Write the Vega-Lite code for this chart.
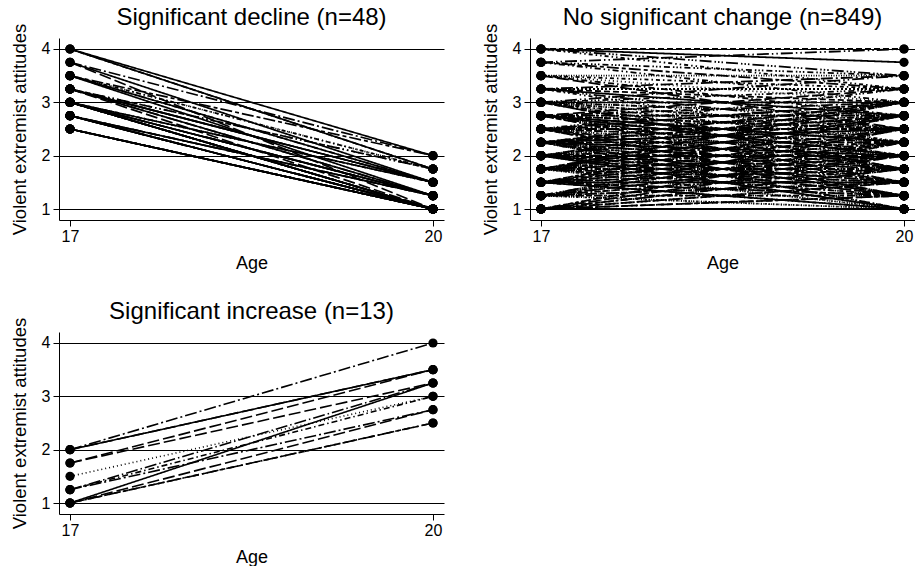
{
  "$schema": "https://vega.github.io/schema/vega-lite/v6.json",
  "background": "white",
  "padding": {"left": 10, "top": 6, "right": 0, "bottom": 0},
  "datasets": {
    "decline": [
      {"id":1,"age":17,"val":4},{"id":1,"age":20,"val":2},
      {"id":2,"age":17,"val":4},{"id":2,"age":20,"val":1.75},
      {"id":3,"age":17,"val":4},{"id":3,"age":20,"val":1.75},
      {"id":4,"age":17,"val":3.75},{"id":4,"age":20,"val":2},
      {"id":5,"age":17,"val":3.75},{"id":5,"age":20,"val":1},
      {"id":6,"age":17,"val":3.75},{"id":6,"age":20,"val":1.5},
      {"id":7,"age":17,"val":3.5},{"id":7,"age":20,"val":1.75},
      {"id":8,"age":17,"val":3.5},{"id":8,"age":20,"val":1.75},
      {"id":9,"age":17,"val":3.5},{"id":9,"age":20,"val":1.5},
      {"id":10,"age":17,"val":3.5},{"id":10,"age":20,"val":1.5},
      {"id":11,"age":17,"val":3.5},{"id":11,"age":20,"val":2},
      {"id":12,"age":17,"val":3.5},{"id":12,"age":20,"val":1.25},
      {"id":13,"age":17,"val":3.25},{"id":13,"age":20,"val":1.75},
      {"id":14,"age":17,"val":3.25},{"id":14,"age":20,"val":1.75},
      {"id":15,"age":17,"val":3.25},{"id":15,"age":20,"val":1.5},
      {"id":16,"age":17,"val":3.25},{"id":16,"age":20,"val":1.5},
      {"id":17,"age":17,"val":3.25},{"id":17,"age":20,"val":1.5},
      {"id":18,"age":17,"val":3.25},{"id":18,"age":20,"val":1.25},
      {"id":19,"age":17,"val":3.25},{"id":19,"age":20,"val":1.25},
      {"id":20,"age":17,"val":3.25},{"id":20,"age":20,"val":1},
      {"id":21,"age":17,"val":3},{"id":21,"age":20,"val":1.5},
      {"id":22,"age":17,"val":3},{"id":22,"age":20,"val":1.5},
      {"id":23,"age":17,"val":3},{"id":23,"age":20,"val":1.5},
      {"id":24,"age":17,"val":3},{"id":24,"age":20,"val":1.25},
      {"id":25,"age":17,"val":3},{"id":25,"age":20,"val":1.25},
      {"id":26,"age":17,"val":3},{"id":26,"age":20,"val":1.25},
      {"id":27,"age":17,"val":3},{"id":27,"age":20,"val":1.25},
      {"id":28,"age":17,"val":3},{"id":28,"age":20,"val":1},
      {"id":29,"age":17,"val":3},{"id":29,"age":20,"val":1},
      {"id":30,"age":17,"val":3},{"id":30,"age":20,"val":1},
      {"id":31,"age":17,"val":3},{"id":31,"age":20,"val":1},
      {"id":32,"age":17,"val":3},{"id":32,"age":20,"val":1},
      {"id":33,"age":17,"val":3},{"id":33,"age":20,"val":1},
      {"id":34,"age":17,"val":2.75},{"id":34,"age":20,"val":1.25},
      {"id":35,"age":17,"val":2.75},{"id":35,"age":20,"val":1.25},
      {"id":36,"age":17,"val":2.75},{"id":36,"age":20,"val":1.25},
      {"id":37,"age":17,"val":2.75},{"id":37,"age":20,"val":1},
      {"id":38,"age":17,"val":2.75},{"id":38,"age":20,"val":1},
      {"id":39,"age":17,"val":2.75},{"id":39,"age":20,"val":1},
      {"id":40,"age":17,"val":2.75},{"id":40,"age":20,"val":1},
      {"id":41,"age":17,"val":2.75},{"id":41,"age":20,"val":1},
      {"id":42,"age":17,"val":2.75},{"id":42,"age":20,"val":1},
      {"id":43,"age":17,"val":2.5},{"id":43,"age":20,"val":1},
      {"id":44,"age":17,"val":2.5},{"id":44,"age":20,"val":1},
      {"id":45,"age":17,"val":2.5},{"id":45,"age":20,"val":1},
      {"id":46,"age":17,"val":2.5},{"id":46,"age":20,"val":1},
      {"id":47,"age":17,"val":2.5},{"id":47,"age":20,"val":1},
      {"id":48,"age":17,"val":2.5},{"id":48,"age":20,"val":1}
    ],
    "nochange": [
      {"id":101,"age":17,"val":1},{"id":101,"age":20,"val":1},
      {"id":102,"age":17,"val":1},{"id":102,"age":20,"val":1.25},
      {"id":103,"age":17,"val":1},{"id":103,"age":20,"val":1.5},
      {"id":104,"age":17,"val":1},{"id":104,"age":20,"val":1.75},
      {"id":105,"age":17,"val":1},{"id":105,"age":20,"val":2},
      {"id":106,"age":17,"val":1},{"id":106,"age":20,"val":2.25},
      {"id":107,"age":17,"val":1.25},{"id":107,"age":20,"val":1},
      {"id":108,"age":17,"val":1.25},{"id":108,"age":20,"val":1.25},
      {"id":109,"age":17,"val":1.25},{"id":109,"age":20,"val":1.5},
      {"id":110,"age":17,"val":1.25},{"id":110,"age":20,"val":1.75},
      {"id":111,"age":17,"val":1.25},{"id":111,"age":20,"val":2},
      {"id":112,"age":17,"val":1.25},{"id":112,"age":20,"val":2.25},
      {"id":113,"age":17,"val":1.25},{"id":113,"age":20,"val":2.5},
      {"id":114,"age":17,"val":1.5},{"id":114,"age":20,"val":1},
      {"id":115,"age":17,"val":1.5},{"id":115,"age":20,"val":1.25},
      {"id":116,"age":17,"val":1.5},{"id":116,"age":20,"val":1.5},
      {"id":117,"age":17,"val":1.5},{"id":117,"age":20,"val":1.75},
      {"id":118,"age":17,"val":1.5},{"id":118,"age":20,"val":2},
      {"id":119,"age":17,"val":1.5},{"id":119,"age":20,"val":2.25},
      {"id":120,"age":17,"val":1.5},{"id":120,"age":20,"val":2.5},
      {"id":121,"age":17,"val":1.5},{"id":121,"age":20,"val":2.75},
      {"id":122,"age":17,"val":1.75},{"id":122,"age":20,"val":1},
      {"id":123,"age":17,"val":1.75},{"id":123,"age":20,"val":1.25},
      {"id":124,"age":17,"val":1.75},{"id":124,"age":20,"val":1.5},
      {"id":125,"age":17,"val":1.75},{"id":125,"age":20,"val":1.75},
      {"id":126,"age":17,"val":1.75},{"id":126,"age":20,"val":2},
      {"id":127,"age":17,"val":1.75},{"id":127,"age":20,"val":2.25},
      {"id":128,"age":17,"val":1.75},{"id":128,"age":20,"val":2.5},
      {"id":129,"age":17,"val":1.75},{"id":129,"age":20,"val":2.75},
      {"id":130,"age":17,"val":1.75},{"id":130,"age":20,"val":3},
      {"id":131,"age":17,"val":2},{"id":131,"age":20,"val":1},
      {"id":132,"age":17,"val":2},{"id":132,"age":20,"val":1.25},
      {"id":133,"age":17,"val":2},{"id":133,"age":20,"val":1.5},
      {"id":134,"age":17,"val":2},{"id":134,"age":20,"val":1.75},
      {"id":135,"age":17,"val":2},{"id":135,"age":20,"val":2},
      {"id":136,"age":17,"val":2},{"id":136,"age":20,"val":2.25},
      {"id":137,"age":17,"val":2},{"id":137,"age":20,"val":2.5},
      {"id":138,"age":17,"val":2},{"id":138,"age":20,"val":2.75},
      {"id":139,"age":17,"val":2},{"id":139,"age":20,"val":3},
      {"id":140,"age":17,"val":2.25},{"id":140,"age":20,"val":1},
      {"id":141,"age":17,"val":2.25},{"id":141,"age":20,"val":1.25},
      {"id":142,"age":17,"val":2.25},{"id":142,"age":20,"val":1.5},
      {"id":143,"age":17,"val":2.25},{"id":143,"age":20,"val":1.75},
      {"id":144,"age":17,"val":2.25},{"id":144,"age":20,"val":2},
      {"id":145,"age":17,"val":2.25},{"id":145,"age":20,"val":2.25},
      {"id":146,"age":17,"val":2.25},{"id":146,"age":20,"val":2.5},
      {"id":147,"age":17,"val":2.25},{"id":147,"age":20,"val":2.75},
      {"id":148,"age":17,"val":2.25},{"id":148,"age":20,"val":3},
      {"id":149,"age":17,"val":2.5},{"id":149,"age":20,"val":1.25},
      {"id":150,"age":17,"val":2.5},{"id":150,"age":20,"val":1.5},
      {"id":151,"age":17,"val":2.5},{"id":151,"age":20,"val":1.75},
      {"id":152,"age":17,"val":2.5},{"id":152,"age":20,"val":2},
      {"id":153,"age":17,"val":2.5},{"id":153,"age":20,"val":2.25},
      {"id":154,"age":17,"val":2.5},{"id":154,"age":20,"val":2.5},
      {"id":155,"age":17,"val":2.5},{"id":155,"age":20,"val":2.75},
      {"id":156,"age":17,"val":2.5},{"id":156,"age":20,"val":3},
      {"id":157,"age":17,"val":2.5},{"id":157,"age":20,"val":3.25},
      {"id":158,"age":17,"val":2.75},{"id":158,"age":20,"val":1.5},
      {"id":159,"age":17,"val":2.75},{"id":159,"age":20,"val":1.75},
      {"id":160,"age":17,"val":2.75},{"id":160,"age":20,"val":2},
      {"id":161,"age":17,"val":2.75},{"id":161,"age":20,"val":2.25},
      {"id":162,"age":17,"val":2.75},{"id":162,"age":20,"val":2.5},
      {"id":163,"age":17,"val":2.75},{"id":163,"age":20,"val":2.75},
      {"id":164,"age":17,"val":2.75},{"id":164,"age":20,"val":3},
      {"id":165,"age":17,"val":2.75},{"id":165,"age":20,"val":3.25},
      {"id":166,"age":17,"val":3},{"id":166,"age":20,"val":1.75},
      {"id":167,"age":17,"val":3},{"id":167,"age":20,"val":2},
      {"id":168,"age":17,"val":3},{"id":168,"age":20,"val":2.25},
      {"id":169,"age":17,"val":3},{"id":169,"age":20,"val":2.5},
      {"id":170,"age":17,"val":3},{"id":170,"age":20,"val":2.75},
      {"id":171,"age":17,"val":3},{"id":171,"age":20,"val":3},
      {"id":172,"age":17,"val":3},{"id":172,"age":20,"val":3.25},
      {"id":173,"age":17,"val":3},{"id":173,"age":20,"val":3.5},
      {"id":174,"age":17,"val":3.25},{"id":174,"age":20,"val":2.25},
      {"id":175,"age":17,"val":3.25},{"id":175,"age":20,"val":2.5},
      {"id":176,"age":17,"val":3.25},{"id":176,"age":20,"val":2.75},
      {"id":177,"age":17,"val":3.25},{"id":177,"age":20,"val":3},
      {"id":178,"age":17,"val":3.25},{"id":178,"age":20,"val":3.25},
      {"id":179,"age":17,"val":3.25},{"id":179,"age":20,"val":3.5},
      {"id":180,"age":17,"val":3.5},{"id":180,"age":20,"val":2.5},
      {"id":181,"age":17,"val":3.5},{"id":181,"age":20,"val":2.75},
      {"id":182,"age":17,"val":3.5},{"id":182,"age":20,"val":3},
      {"id":183,"age":17,"val":3.5},{"id":183,"age":20,"val":3.25},
      {"id":184,"age":17,"val":3.5},{"id":184,"age":20,"val":3.5},
      {"id":185,"age":17,"val":3.75},{"id":185,"age":20,"val":3},
      {"id":186,"age":17,"val":3.75},{"id":186,"age":20,"val":3.25},
      {"id":187,"age":17,"val":3.75},{"id":187,"age":20,"val":3.5},
      {"id":188,"age":17,"val":3.75},{"id":188,"age":20,"val":4},
      {"id":189,"age":17,"val":4},{"id":189,"age":20,"val":3.25},
      {"id":190,"age":17,"val":4},{"id":190,"age":20,"val":3.5},
      {"id":191,"age":17,"val":4},{"id":191,"age":20,"val":3.75},
      {"id":192,"age":17,"val":4},{"id":192,"age":20,"val":4},
      {"id":301,"age":17,"val":1},{"id":301,"age":20,"val":1},
      {"id":302,"age":17,"val":1},{"id":302,"age":20,"val":1.25},
      {"id":303,"age":17,"val":1},{"id":303,"age":20,"val":1.5},
      {"id":304,"age":17,"val":1},{"id":304,"age":20,"val":1.75},
      {"id":305,"age":17,"val":1},{"id":305,"age":20,"val":2},
      {"id":306,"age":17,"val":1},{"id":306,"age":20,"val":2.25},
      {"id":307,"age":17,"val":1.25},{"id":307,"age":20,"val":1},
      {"id":308,"age":17,"val":1.25},{"id":308,"age":20,"val":1.25},
      {"id":309,"age":17,"val":1.25},{"id":309,"age":20,"val":1.5},
      {"id":310,"age":17,"val":1.25},{"id":310,"age":20,"val":1.75},
      {"id":311,"age":17,"val":1.25},{"id":311,"age":20,"val":2},
      {"id":312,"age":17,"val":1.25},{"id":312,"age":20,"val":2.25},
      {"id":313,"age":17,"val":1.25},{"id":313,"age":20,"val":2.5},
      {"id":314,"age":17,"val":1.5},{"id":314,"age":20,"val":1},
      {"id":315,"age":17,"val":1.5},{"id":315,"age":20,"val":1.25},
      {"id":316,"age":17,"val":1.5},{"id":316,"age":20,"val":1.5},
      {"id":317,"age":17,"val":1.5},{"id":317,"age":20,"val":1.75},
      {"id":318,"age":17,"val":1.5},{"id":318,"age":20,"val":2},
      {"id":319,"age":17,"val":1.5},{"id":319,"age":20,"val":2.25},
      {"id":320,"age":17,"val":1.5},{"id":320,"age":20,"val":2.5},
      {"id":321,"age":17,"val":1.5},{"id":321,"age":20,"val":2.75},
      {"id":322,"age":17,"val":1.75},{"id":322,"age":20,"val":1},
      {"id":323,"age":17,"val":1.75},{"id":323,"age":20,"val":1.25},
      {"id":324,"age":17,"val":1.75},{"id":324,"age":20,"val":1.5},
      {"id":325,"age":17,"val":1.75},{"id":325,"age":20,"val":1.75},
      {"id":326,"age":17,"val":1.75},{"id":326,"age":20,"val":2},
      {"id":327,"age":17,"val":1.75},{"id":327,"age":20,"val":2.25},
      {"id":328,"age":17,"val":1.75},{"id":328,"age":20,"val":2.5},
      {"id":329,"age":17,"val":1.75},{"id":329,"age":20,"val":2.75},
      {"id":330,"age":17,"val":1.75},{"id":330,"age":20,"val":3},
      {"id":331,"age":17,"val":2},{"id":331,"age":20,"val":1},
      {"id":332,"age":17,"val":2},{"id":332,"age":20,"val":1.25},
      {"id":333,"age":17,"val":2},{"id":333,"age":20,"val":1.5},
      {"id":334,"age":17,"val":2},{"id":334,"age":20,"val":1.75},
      {"id":335,"age":17,"val":2},{"id":335,"age":20,"val":2},
      {"id":336,"age":17,"val":2},{"id":336,"age":20,"val":2.25},
      {"id":337,"age":17,"val":2},{"id":337,"age":20,"val":2.5},
      {"id":338,"age":17,"val":2},{"id":338,"age":20,"val":2.75},
      {"id":339,"age":17,"val":2},{"id":339,"age":20,"val":3},
      {"id":340,"age":17,"val":2.25},{"id":340,"age":20,"val":1},
      {"id":341,"age":17,"val":2.25},{"id":341,"age":20,"val":1.25},
      {"id":342,"age":17,"val":2.25},{"id":342,"age":20,"val":1.5},
      {"id":343,"age":17,"val":2.25},{"id":343,"age":20,"val":1.75},
      {"id":344,"age":17,"val":2.25},{"id":344,"age":20,"val":2},
      {"id":345,"age":17,"val":2.25},{"id":345,"age":20,"val":2.25},
      {"id":346,"age":17,"val":2.25},{"id":346,"age":20,"val":2.5},
      {"id":347,"age":17,"val":2.25},{"id":347,"age":20,"val":2.75},
      {"id":348,"age":17,"val":2.25},{"id":348,"age":20,"val":3},
      {"id":349,"age":17,"val":2.5},{"id":349,"age":20,"val":1.25},
      {"id":350,"age":17,"val":2.5},{"id":350,"age":20,"val":1.5},
      {"id":351,"age":17,"val":2.5},{"id":351,"age":20,"val":1.75},
      {"id":352,"age":17,"val":2.5},{"id":352,"age":20,"val":2},
      {"id":353,"age":17,"val":2.5},{"id":353,"age":20,"val":2.25},
      {"id":354,"age":17,"val":2.5},{"id":354,"age":20,"val":2.5},
      {"id":355,"age":17,"val":2.5},{"id":355,"age":20,"val":2.75},
      {"id":356,"age":17,"val":2.5},{"id":356,"age":20,"val":3},
      {"id":357,"age":17,"val":2.75},{"id":357,"age":20,"val":1.5},
      {"id":358,"age":17,"val":2.75},{"id":358,"age":20,"val":1.75},
      {"id":359,"age":17,"val":2.75},{"id":359,"age":20,"val":2},
      {"id":360,"age":17,"val":2.75},{"id":360,"age":20,"val":2.25},
      {"id":361,"age":17,"val":2.75},{"id":361,"age":20,"val":2.5},
      {"id":362,"age":17,"val":2.75},{"id":362,"age":20,"val":2.75},
      {"id":363,"age":17,"val":3},{"id":363,"age":20,"val":1.75},
      {"id":364,"age":17,"val":3},{"id":364,"age":20,"val":2},
      {"id":365,"age":17,"val":3},{"id":365,"age":20,"val":2.25},
      {"id":366,"age":17,"val":3},{"id":366,"age":20,"val":2.5},
      {"id":367,"age":17,"val":3},{"id":367,"age":20,"val":2.75},
      {"id":368,"age":17,"val":3},{"id":368,"age":20,"val":3}
    ],
    "increase": [
      {"id":201,"age":17,"val":2},{"id":201,"age":20,"val":4},
      {"id":202,"age":17,"val":2},{"id":202,"age":20,"val":3.5},
      {"id":203,"age":17,"val":2},{"id":203,"age":20,"val":3.5},
      {"id":204,"age":17,"val":1.75},{"id":204,"age":20,"val":3.5},
      {"id":205,"age":17,"val":1.75},{"id":205,"age":20,"val":3.25},
      {"id":206,"age":17,"val":1.5},{"id":206,"age":20,"val":3},
      {"id":207,"age":17,"val":1.25},{"id":207,"age":20,"val":2.75},
      {"id":208,"age":17,"val":1.25},{"id":208,"age":20,"val":3},
      {"id":209,"age":17,"val":1},{"id":209,"age":20,"val":3.25},
      {"id":210,"age":17,"val":1},{"id":210,"age":20,"val":2.75},
      {"id":211,"age":17,"val":1},{"id":211,"age":20,"val":2.5},
      {"id":212,"age":17,"val":1},{"id":212,"age":20,"val":2.5},
      {"id":213,"age":17,"val":1.25},{"id":213,"age":20,"val":3.25}
    ]
  },
  "columns": 2,
  "spacing": {"column": 37, "row": 28},
  "concat": [
    {
      "title": {"text": "Significant decline (n=48)"},
      "width": 385, "height": 182,
      "data": {"name": "decline"},
      "encoding": {
        "x": {"field": "age", "type": "quantitative", "scale": {"domain": [16.909, 20.091], "nice": false, "zero": false}, "axis": {"values": [17, 20], "title": "Age", "grid": false}},
        "y": {"field": "val", "type": "quantitative", "scale": {"domain": [0.794, 4.206], "nice": false, "zero": false}, "axis": {"values": [1, 2, 3, 4], "title": "Violent extremist attitudes", "grid": true}}
      },
      "layer": [
        {"mark": {"type": "line", "strokeWidth": 1.7, "color": "black"},
         "encoding": {"strokeDash": {"field": "id", "type": "nominal", "legend": null, "scale": {"range": [[1,0],[6,3],[1,0],[12,3,2,3],[12,4],[1,0],[1,3],[4,3,1.5,3],[1,0],[6,3,1.5,3,1.5,3],[12,3,4,3],[1,0],[12,3,1.5,3,1.5,3],[4,3,1.5,3,1.5,3],[1,0]]}}}},
        {"mark": {"type": "point", "filled": true, "size": 85, "color": "black", "opacity": 1}}
      ]
    },
    {
      "title": {"text": "No significant change (n=849)"},
      "width": 385, "height": 182,
      "data": {"name": "nochange"},
      "encoding": {
        "x": {"field": "age", "type": "quantitative", "scale": {"domain": [16.909, 20.091], "nice": false, "zero": false}, "axis": {"values": [17, 20], "title": "Age", "grid": false}},
        "y": {"field": "val", "type": "quantitative", "scale": {"domain": [0.794, 4.206], "nice": false, "zero": false}, "axis": {"values": [1, 2, 3, 4], "title": "Violent extremist attitudes", "grid": true}}
      },
      "layer": [
        {"mark": {"type": "line", "strokeWidth": 1.8, "color": "black"},
         "encoding": {"strokeDash": {"field": "id", "type": "nominal", "legend": null, "scale": {"range": [[1,0],[6,3],[2,2],[12,3,2,3],[12,4],[6,3,1.5,3],[1,3],[4,3,1.5,3],[1,1.5],[6,3,1.5,3,1.5,3],[12,3,4,3],[6,3,1.5,2,1.5,2,1.5,3],[12,3,1.5,3,1.5,3],[4,3,1.5,3,1.5,3],[12,3,1.5,2,1.5,2,1.5,3]]}}}},
        {"mark": {"type": "point", "filled": true, "size": 85, "color": "black", "opacity": 1}}
      ]
    },
    {
      "title": {"text": "Significant increase (n=13)"},
      "width": 385, "height": 182,
      "data": {"name": "increase"},
      "encoding": {
        "x": {"field": "age", "type": "quantitative", "scale": {"domain": [16.909, 20.091], "nice": false, "zero": false}, "axis": {"values": [17, 20], "title": "Age", "grid": false}},
        "y": {"field": "val", "type": "quantitative", "scale": {"domain": [0.794, 4.206], "nice": false, "zero": false}, "axis": {"values": [1, 2, 3, 4], "title": "Violent extremist attitudes", "grid": true}}
      },
      "layer": [
        {"mark": {"type": "line", "strokeWidth": 1.6, "color": "black"},
         "encoding": {"strokeDash": {"field": "id", "type": "nominal", "legend": null, "scale": {"range": [[12,3,2,3],[1,0],[12,4],[12,4],[12,4],[1,3],[12,3,2,3],[6,3,1.5,3],[1,0],[12,4],[6,3],[12,3,2,3],[12,3,1.5,3]]}}}},
        {"mark": {"type": "point", "filled": true, "size": 85, "color": "black", "opacity": 1}}
      ]
    }
  ],
  "resolve": {"scale": {"strokeDash": "independent"}},
  "config": {
    "view": {"stroke": null},
    "font": "Liberation Sans",
    "title": {"fontSize": 24, "fontWeight": "normal", "color": "black", "font": "Liberation Sans", "offset": -7, "anchor": "middle"},
    "axis": {
      "labelFont": "Liberation Sans", "titleFont": "Liberation Sans",
      "labelFontSize": 16, "titleFontSize": 18, "titleFontWeight": "normal",
      "labelColor": "black", "titleColor": "black",
      "domainColor": "black", "domainWidth": 1, "tickColor": "black", "tickWidth": 1, "tickSize": 6,
      "gridColor": "black", "gridOpacity": 1, "gridWidth": 1,
      "labelPadding": 3
    },
    "axisX": {"titlePadding": 10, "labelPadding": 2},
    "axisY": {"titlePadding": 12, "titleFontSize": 18.5}
  }
}
